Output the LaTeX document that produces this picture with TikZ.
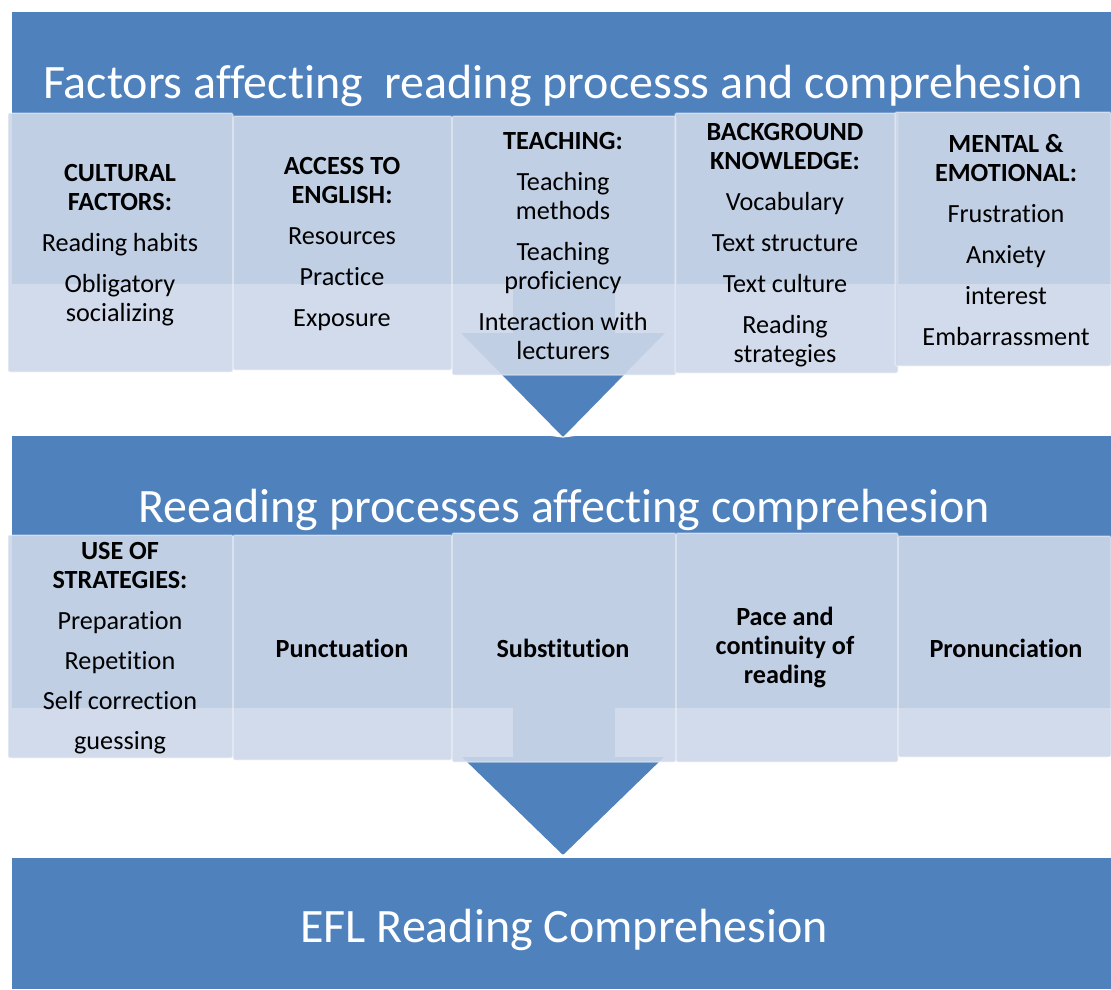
\documentclass[tikz,border=0pt]{standalone}
\usepackage{fontspec}
\setmainfont{Carlito}[Ligatures={NoCommon,NoContextual}]
\definecolor{bandblue}{HTML}{4F81BD}
\definecolor{cellfill}{HTML}{CED8EA}
\begin{document}
\begin{tikzpicture}[x=1pt,y=-1pt,
  band/.style={fill=bandblue},
  pointer/.style={fill=bandblue},
  pointeredge/.style={draw=white, line width=1.2pt},
  cell/.style={fill=cellfill, fill opacity=0.9, draw=white, draw opacity=0.35,
    line width=1.5pt, rounded corners=2pt},
  celltext/.style={align=center, inner sep=0pt, text=black,
    font=\fontsize{26.2}{29}\selectfont},
  title/.style={anchor=base, inner sep=0pt, text=white,
    font=\fontsize{48}{57}\selectfont}]
\useasboundingbox (0,0) rectangle (1111,989);
\fill[white] (0,0) rectangle (1111,989);

% three stage bands
\fill[band] (12,12) rectangle (1111,284);
\fill[band] (12,436) rectangle (1111,708);
\fill[band] (12,858) rectangle (1111,989);

% down arrows between the stages
\coordinate (tipA) at (563,437);
\coordinate (tipB) at (563,855);
\fill[pointer] (513,284) -- (615,284) -- (615,333) -- (665,333) -- (tipA)
  -- (461,333) -- (513,333) -- cycle;
\draw[pointeredge] (519,431) -- (tipA) -- (607,431);
\fill[pointer] (513,708) -- (615,708) -- (615,757) -- (664,757) -- (tipB)
  -- (462,757) -- (513,757) -- cycle;
\draw[pointeredge] (519,849) -- (tipB) -- (607,849);

% titles
\node[title] (t1) at (563,98) {Factors affecting\ \ reading processs and comprehesion};
\node[title] (t2) at (564,522) {Reeading processes affecting comprehesion};
\node[title] (t3) at (564,942) {EFL Reading Comprehesion};

% first row of factor cells
\path[cell] (8,113) rectangle (233,372);
\path[cell] (233,116) rectangle (452,370);
\path[cell] (452,116) rectangle (676,375);
\path[cell] (675,113) rectangle (898,373);
\path[cell] (895,112) rectangle (1111,366);

\node[celltext] (f1) at (120,245) {\textbf{CULTURAL}\\\textbf{FACTORS:}\\[12pt]
  Reading habits\\[12pt]Obligatory\\socializing};
\node[celltext] (f2) at (342,244) {\textbf{ACCESS TO}\\\textbf{ENGLISH:}\\[12pt]
  Resources\\[12pt]Practice\\[12pt]Exposure};
\node[celltext] (f3) at (563,246) {\textbf{TEACHING:}\\[12pt]
  Teaching\\methods\\[12pt]Teaching\\proficiency\\[12pt]Interaction with\\lecturers};
\node[celltext] (f4) at (785,245) {\textbf{BACKGROUND}\\\textbf{KNOWLEDGE:}\\[12pt]
  Vocabulary\\[12pt]Text structure\\[12pt]Text culture\\[12pt]Reading\\strategies};
\node[celltext] (f5) at (1006,240) {\textbf{MENTAL \&}\\\textbf{EMOTIONAL:}\\[12pt]
  Frustration\\[12pt]Anxiety\\[12pt]interest\\[12pt]Embarrassment};

% second row of process cells
\path[cell] (8,535) rectangle (233,758);
\path[cell] (233,535) rectangle (452,760);
\path[cell] (452,533) rectangle (676,762);
\path[cell] (676,533) rectangle (898,762);
\path[cell] (898,536) rectangle (1111,757);

\node[celltext] (p1) at (120,648) {\textbf{USE OF}\\\textbf{STRATEGIES:}\\[12pt]
  Preparation\\[11pt]Repetition\\[11pt]Self correction\\[11pt]guessing};
\node[celltext] (p2) at (342,648) {\textbf{Punctuation}};
\node[celltext] (p3) at (563,648) {\textbf{Substitution}};
\node[celltext] (p4) at (785,648) {\textbf{Pace and}\\\textbf{continuity of}\\\textbf{reading}};
\node[celltext] (p5) at (1006,648) {\textbf{Pronunciation}};
\end{tikzpicture}
\end{document}
